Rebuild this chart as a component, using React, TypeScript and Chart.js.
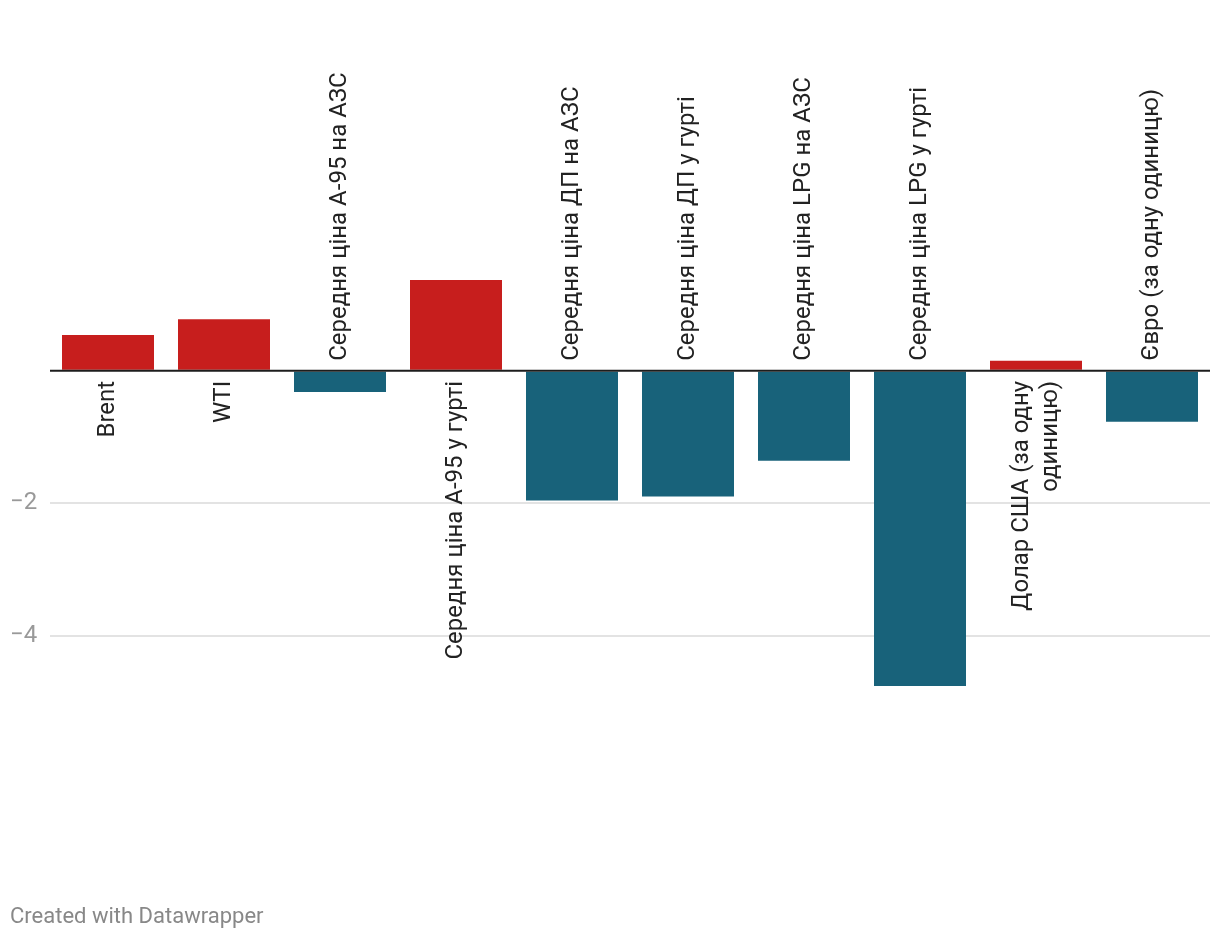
import React, { useEffect, useRef } from "react";
import { Chart, registerables } from "chart.js";

Chart.register(...registerables);

const categories: string[][] = [
  ["Brent"],
  ["WTI"],
  ["Середня ціна А-95 на АЗС"],
  ["Середня ціна А-95 у гурті"],
  ["Середня ціна ДП на АЗС"],
  ["Середня ціна ДП у гурті"],
  ["Середня ціна LPG на АЗС"],
  ["Середня ціна LPG у гурті"],
  ["Долар США (за одну", "одиницю)"],
  ["Євро (за одну одиницю)"],
];

const values: number[] = [0.54, 0.78, -0.32, 1.37, -1.96, -1.9, -1.36, -4.76, 0.15, -0.77];

const yTicks: number[] = [-2, -4];

const RED = "#c71e1d";
const BLUE = "#18627a";
const FONT = "Roboto";

const labelPlugin = {
  id: "barLabels",
  afterDatasetsDraw(chart: any) {
    const { ctx, chartArea } = chart;
    const meta = chart.getDatasetMeta(0);
    const y0 = chart.scales.y.getPixelForValue(0);
    ctx.save();
    ctx.font = `24px ${FONT}`;
    ctx.fillStyle = "#222222";
    ctx.textBaseline = "middle";
    const lh = 29;
    meta.data.forEach((bar: any, i: number) => {
      const v = values[i];
      const lines = categories[i];
      const gap = 10;
      ctx.save();
      ctx.translate(bar.x, v >= 0 ? y0 + gap : y0 - gap);
      ctx.rotate(-Math.PI / 2);
      ctx.textAlign = v >= 0 ? "right" : "left";
      lines.forEach((ln, j) => {
        const off = (j - (lines.length - 1) / 2) * lh;
        ctx.fillText(ln, 0, off);
      });
      ctx.restore();
    });
    // zero baseline
    ctx.strokeStyle = "#1d1d1d";
    ctx.lineWidth = 2;
    ctx.beginPath();
    ctx.moveTo(chartArea.left, y0);
    ctx.lineTo(chartArea.right, y0);
    ctx.stroke();
    ctx.restore();
  },
};

export default function App() {
  const ref = useRef<HTMLCanvasElement | null>(null);
  useEffect(() => {
    document.body.style.margin = "0";
    const canvas = ref.current;
    if (!canvas) return;
    const chart = new Chart(canvas, {
      type: "bar",
      data: {
        labels: categories.map((c) => c.join(" ")),
        datasets: [
          {
            data: values,
            backgroundColor: values.map((v) => (v >= 0 ? RED : BLUE)),
            barPercentage: 92 / 116,
            categoryPercentage: 1,
          },
        ],
      },
      options: {
        animation: false,
        responsive: false,
        devicePixelRatio: 1,
        layout: { padding: { left: 10, right: 10, top: 106, bottom: 172 } },
        plugins: {
          legend: { display: false },
          tooltip: { enabled: false },
        },
        scales: {
          x: { display: false },
          y: {
            min: -6,
            max: 4,
            ticks: {
              stepSize: 2,
              padding: 0,
              crossAlign: "far",
              color: "#999999",
              font: { family: FONT, size: 24 },
              callback: (v: any) => (yTicks.includes(Number(v)) ? "\u2212" + Math.abs(Number(v)) : ""),
            },
            grid: {
              drawTicks: false,
              color: (c: any) => (yTicks.includes(c.tick?.value) ? "#e3e3e3" : "rgba(0,0,0,0)"),
              lineWidth: 2,
            },
            border: { display: false },
            afterFit: (s: any) => {
              s.width = 40;
            },
          },
        },
      } as any,
      plugins: [labelPlugin],
    });
    return () => chart.destroy();
  }, []);
  return (
    <div style={{ position: "relative", width: 1220, height: 940, background: "#fff" }}>
      <canvas ref={ref} width={1220} height={940} style={{ display: "block" }} />
      <div
        style={{
          position: "absolute",
          left: 10,
          top: 904,
          fontFamily: FONT,
          fontSize: 22,
          lineHeight: "24px",
          color: "#888888",
        }}
      >
        Created with Datawrapper
      </div>
    </div>
  );
}
